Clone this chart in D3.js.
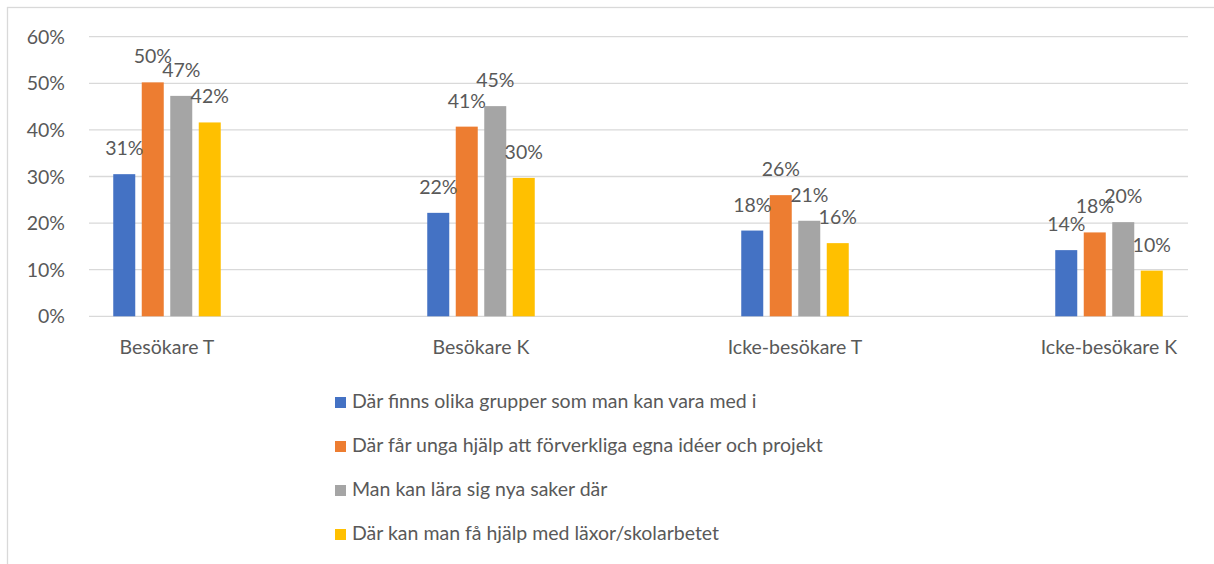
<!DOCTYPE html>
<html>
<head>
<meta charset="utf-8">
<script src="https://cdn.jsdelivr.net/npm/d3@7"></script>
<style>
  body { margin: 0; background: #fff; }
  svg text { font-family: Lato, "Noto Sans", sans-serif; fill: #595959; }
</style>
</head>
<body>
<svg id="chart" width="1214" height="564"></svg>
<script>
var categories = ["Besökare T", "Besökare K", "Icke-besökare T", "Icke-besökare K"];
var seriesNames = [
  "Där finns olika grupper som man kan vara med i",
  "Där får unga hjälp att förverkliga egna idéer och projekt",
  "Man kan lära sig nya saker där",
  "Där kan man få hjälp med läxor/skolarbetet"
];
// one array per series, in category order
var grupper = [0.305, 0.222, 0.184, 0.142];
var projekt = [0.502, 0.407, 0.260, 0.180];
var larasig = [0.473, 0.451, 0.205, 0.202];
var laxor   = [0.416, 0.297, 0.157, 0.098];
var yTicks = [0, 0.1, 0.2, 0.3, 0.4, 0.5, 0.6];
var colors = ["#4472C4", "#ED7D31", "#A5A5A5", "#FFC000"];

var allSeries = [grupper, projekt, larasig, laxor];
var svg = d3.select("#chart");
var fontSize = 19.5;

// chart frame (cut off at right and bottom)
svg.append("rect")
  .attr("x", 7.5).attr("y", 7.5)
  .attr("width", 1240).attr("height", 600)
  .attr("fill", "none").attr("stroke", "#D9D9D9").attr("stroke-width", 1.3);

var gridLeft = 89, gridRight = 1188;

var y = d3.scaleLinear().domain([0, 0.6]).range([316.3, 36.7]);

var x0 = d3.scaleBand().domain(categories).range([10, 1266]);
var x1 = d3.scaleBand().domain(d3.range(seriesNames.length))
  .range([-53.75, 53.75]).paddingInner(0.228);

// gridlines
svg.append("g").selectAll("line")
  .data(yTicks)
  .enter().append("line")
  .attr("x1", gridLeft).attr("x2", gridRight)
  .attr("y1", function(d) { return y(d); })
  .attr("y2", function(d) { return y(d); })
  .attr("stroke", "#D9D9D9").attr("stroke-width", 1.3);

// y axis labels
svg.append("g").selectAll("text")
  .data(yTicks)
  .enter().append("text")
  .attr("x", 65)
  .attr("y", function(d) { return y(d) + 7; })
  .attr("text-anchor", "end")
  .style("font-size", fontSize + "px")
  .text(function(d) { return Math.round(d * 100) + "%"; });

// bars + labels
var groups = svg.append("g").selectAll("g")
  .data(categories)
  .enter().append("g")
  .attr("transform", function(d) { return "translate(" + (x0(d) + x0.bandwidth() / 2) + ",0)"; });

groups.each(function(cat, ci) {
  var g = d3.select(this);
  var vals = allSeries.map(function(s) { return s[ci]; });

  g.selectAll("rect")
    .data(vals)
    .enter().append("rect")
    .attr("x", function(d, i) { return x1(i); })
    .attr("y", function(d) { return y(d); })
    .attr("width", x1.bandwidth())
    .attr("height", function(d) { return y(0) - y(d); })
    .attr("fill", function(d, i) { return colors[i]; });

  g.selectAll("text.lbl")
    .data(vals)
    .enter().append("text")
    .attr("class", "lbl")
    .attr("x", function(d, i) { return x1(i) + x1.bandwidth() / 2; })
    .attr("y", function(d) { return y(d) - 19; })
    .attr("text-anchor", "middle")
    .style("font-size", fontSize + "px")
    .text(function(d) { return Math.round(d * 100) + "%"; });
});

// category labels
svg.append("g").selectAll("text")
  .data(categories)
  .enter().append("text")
  .attr("x", function(d) { return x0(d) + x0.bandwidth() / 2; })
  .attr("y", 354)
  .attr("text-anchor", "middle")
  .style("font-size", fontSize + "px")
  .text(function(d) { return d; });

// legend
var legend = svg.append("g").selectAll("g")
  .data(seriesNames)
  .enter().append("g")
  .attr("transform", function(d, i) { return "translate(335," + (408 + i * 44) + ")"; });

legend.append("rect")
  .attr("x", 0).attr("y", -11)
  .attr("width", 11).attr("height", 11)
  .attr("fill", function(d, i) { return colors[i]; });

legend.append("text")
  .attr("x", 17).attr("y", 0)
  .style("font-size", fontSize + "px")
  .text(function(d) { return d; });
</script>
</body>
</html>
